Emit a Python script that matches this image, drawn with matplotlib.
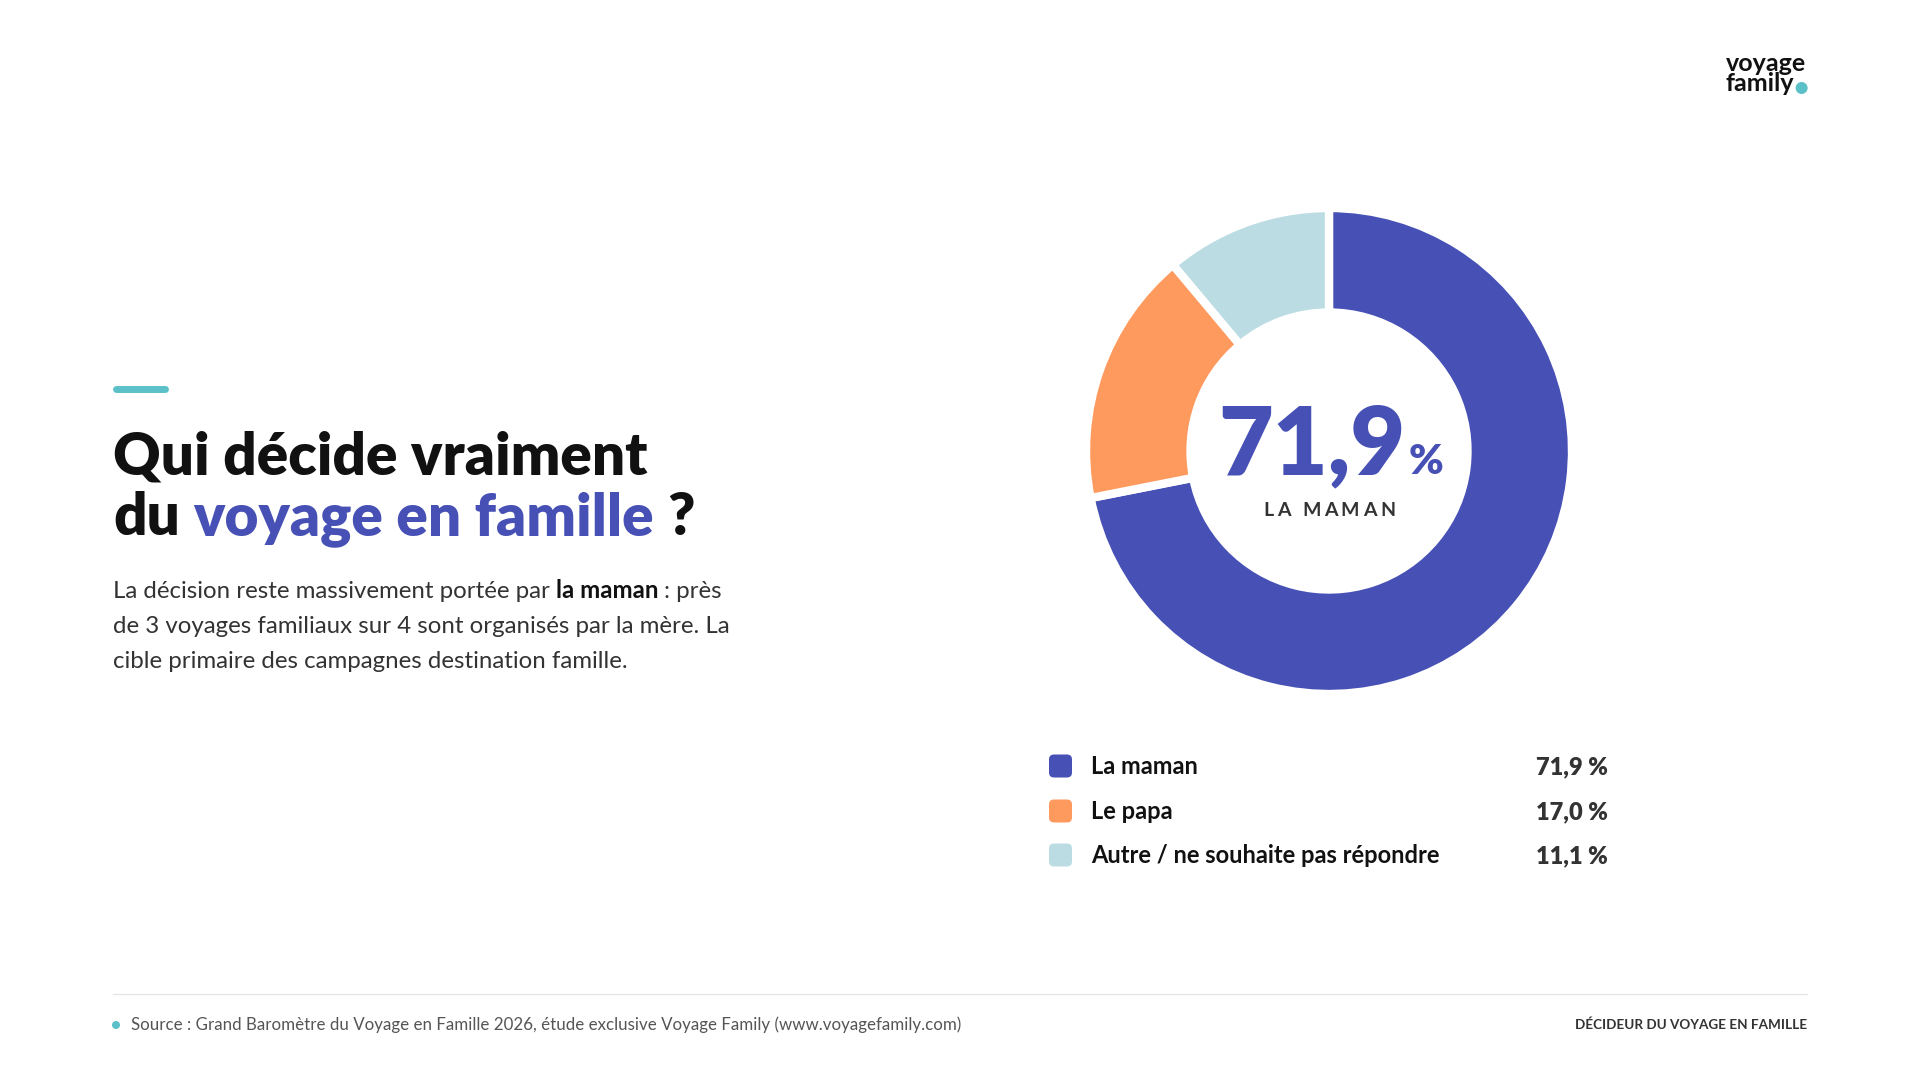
import matplotlib
matplotlib.use('Agg')
import matplotlib.pyplot as plt
from matplotlib.patches import FancyBboxPatch, Circle

# data
labels = ['La maman', 'Le papa', 'Autre / ne souhaite pas répondre']
values = [71.9, 17.0, 11.1]
colors = ['#4650B5', '#FF9A5E', '#BCDCE4']
value_labels = ['71,9 %', '17,0 %', '11,1 %']
center_value = '71,9'
center_label = 'LA MAMAN'

W, H = 1920, 1080
TEAL = '#5BC0C8'
INK = '#111111'
GREY = '#333333'

plt.rcParams['font.family'] = ['Lato', 'DejaVu Sans']

fig = plt.figure(figsize=(19.2, 10.8), dpi=100)
fig.patch.set_facecolor('white')

# background axes in pixel coords (y down)
bg = fig.add_axes([0, 0, 1, 1])
bg.set_xlim(0, W)
bg.set_ylim(H, 0)
bg.axis('off')
renderer = fig.canvas.get_renderer()


def width_of(s, size, weight):
    t = bg.text(0, 0, s, fontsize=size, fontweight=weight)
    w = t.get_window_extent(renderer=renderer).width
    t.remove()
    return w


def space_w(size, weight):
    return width_of('a a', size, weight) - width_of('aa', size, weight)


def runs(x, y, parts, size):
    # parts: (text, color, weight, space_before)
    for s, c, w, sp in parts:
        if sp:
            x += space_w(size, w)
        bg.text(x, y, s, fontsize=size, color=c, fontweight=w, va='baseline', ha='left')
        x += width_of(s, size, w)
    return x


def tracked(x, y, s, size, weight, color, track):
    ws = [space_w(size, weight) if ch == ' ' else width_of(ch, size, weight) for ch in s]
    total = sum(ws) + track * (len(s) - 1)
    x = x - total / 2
    for ch, w in zip(s, ws):
        if ch != ' ':
            bg.text(x, y, ch, fontsize=size, fontweight=weight, color=color, va='baseline', ha='left')
        x += w + track


# accent bar + title
bg.plot([116, 165], [389, 389], color=TEAL, lw=5, solid_capstyle='round')
runs(113, 474, [('Qui décide vraiment', INK, 'heavy', False)], 42)
runs(113, 535, [('du', INK, 'heavy', False),
                ('voyage en famille', colors[0], 'heavy', True),
                ('?', INK, 'heavy', True)], 42)

# body text
runs(113, 598, [('La décision reste massivement portée par', GREY, 'normal', False),
                ('la maman', INK, 'bold', True),
                (': près', GREY, 'normal', True)], 17.3)
runs(113, 633, [('de 3 voyages familiaux sur 4 sont organisés par la mère. La', GREY, 'normal', False)], 17.3)
runs(113, 668, [('cible primaire des campagnes destination famille.', GREY, 'normal', False)], 17.3)

# donut
cx, cy, R = 1329, 451, 243
ax = fig.add_axes([(cx - R) / W, (H - cy - R) / H, 2 * R / W, 2 * R / H])
ax.pie(values, colors=colors, startangle=90, counterclock=False, radius=1,
       wedgeprops=dict(width=0.43, edgecolor='white', linewidth=6))
ax.set_xlim(-1, 1)
ax.set_ylim(-1, 1)
ax.set_aspect('equal')
ax.axis('off')

# center text: big number + small percent sign
num_size = 68
w_num = width_of(center_value, num_size, 'heavy')
w_pct = width_of('%', 30, 'heavy')
x0 = 1331 - (w_num + w_pct + 3) / 2
bg.text(x0, 474, center_value, fontsize=num_size, fontweight='heavy', color=colors[0], va='baseline')
bg.text(x0 + w_num + 3, 474, '%', fontsize=30, fontweight='heavy', color=colors[0], va='baseline')
tracked(1329, 516, center_label, 14, 'bold', GREY, 3.5)

# legend
rows_y = [766, 811, 855]
for lab, val, col, yc in zip(labels, value_labels, colors, rows_y):
    bg.add_patch(FancyBboxPatch((1049, yc - 11.5), 23, 23,
                                boxstyle='round,pad=0,rounding_size=5',
                                fc=col, ec='none'))
    bg.text(1091, yc + 8, lab, fontsize=17, fontweight='bold', color=INK, va='baseline')
    bg.text(1608, yc + 8, val, fontsize=17, fontweight='heavy', color=GREY, va='baseline', ha='right')

# footer
bg.plot([113, 1807], [994, 994], color='#E6E6E6', lw=1)
bg.add_patch(Circle((116, 1025), 4, fc=TEAL, ec='none'))
bg.text(131, 1030, 'Source : Grand Baromètre du Voyage en Famille 2026, étude exclusive Voyage Family (www.voyagefamily.com)',
        fontsize=12.2, color='#555555', va='baseline')
bg.text(1807, 1029, 'DÉCIDEUR DU VOYAGE EN FAMILLE', fontsize=9.7, fontweight='bold',
        color=GREY, va='baseline', ha='right')

# logo
bg.text(1726, 71, 'voyage', fontsize=18, fontweight='bold', color=INK, va='baseline')
fw = width_of('family', 18, 'bold')
bg.text(1726, 91, 'family', fontsize=18, fontweight='bold', color=INK, va='baseline')
bg.add_patch(Circle((1726 + fw + 7, 88), 6, fc=TEAL, ec='none'))

fig.savefig('out.png', dpi=100, facecolor='white')
